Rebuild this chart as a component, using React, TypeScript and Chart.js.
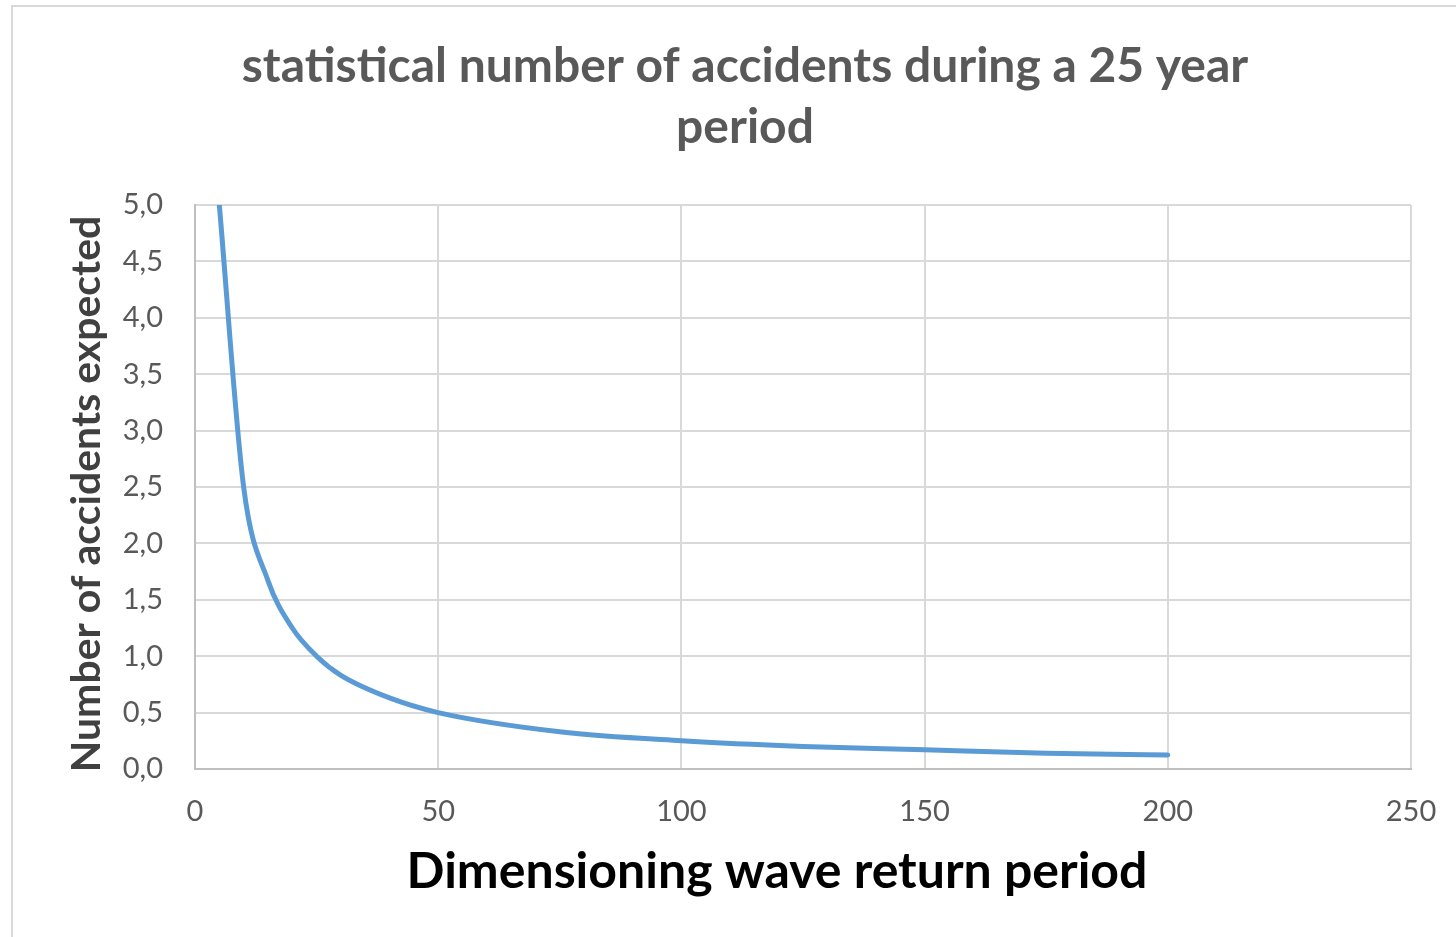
import React, { useEffect, useRef } from "react";
import { Chart, registerables } from "chart.js";

Chart.register(...registerables);

const returnPeriods = [5, 10, 15, 20, 25, 30, 40, 50, 75, 100, 125, 150, 175, 200];
const accidents = [5.0, 2.5, 1.67, 1.25, 1.0, 0.83, 0.63, 0.5, 0.33, 0.25, 0.2, 0.17, 0.14, 0.125];

const xTickValues = [0, 50, 100, 150, 200, 250];
const yTickValues = [0, 0.5, 1, 1.5, 2, 2.5, 3, 3.5, 4, 4.5, 5];

const titleLines = ["statistical number of accidents during a 25 year", "period"];
const xAxisTitle = "Dimensioning wave return period";
const yAxisTitle = "Number of accidents expected";

const axisTitlesPlugin = {
  id: "axisTitles",
  afterDraw(chart: any) {
    const { ctx, chartArea } = chart;
    ctx.save();
    ctx.textAlign = "center";
    ctx.textBaseline = "middle";
    // x axis title
    ctx.fillStyle = "#000000";
    ctx.font = "bold 50px Lato";
    ctx.fillText(xAxisTitle, (chartArea.left + chartArea.right) / 2 - 26, chartArea.bottom + 103);
    // y axis title
    ctx.translate(87, (chartArea.top + chartArea.bottom) / 2 + 7);
    ctx.rotate(-Math.PI / 2);
    ctx.fillStyle = "#404040";
    ctx.font = "bold 41px Lato";
    ctx.fillText(yAxisTitle, 0, 0);
    ctx.restore();
  },
};

export default function App() {
  const ref = useRef<HTMLCanvasElement>(null);

  useEffect(() => {
    if (!ref.current) return;
    const chart = new Chart(ref.current, {
      type: "line",
      data: {
        datasets: [
          {
            data: returnPeriods.map((x, i) => ({ x, y: accidents[i] })),
            borderColor: "#5B9BD5",
            borderWidth: 5,
            pointRadius: 0,
            fill: false,
            cubicInterpolationMode: "monotone",
            borderCapStyle: "round",
          },
        ],
      },
      options: {
        responsive: false,
        animation: false,
        devicePixelRatio: 1,
        layout: { padding: { left: 79, right: 45, top: 0, bottom: 35 } },
        plugins: {
          legend: { display: false },
          tooltip: { enabled: false },
          title: {
            display: true,
            text: titleLines,
            color: "#595959",
            font: { family: "Lato", size: 48, weight: "bold", lineHeight: 1.27 },
            padding: { top: 36.5, bottom: 46.5 },
          },
        },
        scales: {
          x: {
            type: "linear",
            min: 0,
            max: 250,
            afterBuildTicks: (s: any) => {
              s.ticks = xTickValues.map((v) => ({ value: v }));
            },
            afterFit: (s: any) => {
              s.height = 133;
            },
            ticks: {
              color: "#595959",
              font: { family: "Lato", size: 29 },
              padding: 6,
              maxRotation: 0,
              callback: (v: any) => String(v),
            },
            grid: {
              color: "#D9D9D9",
              lineWidth: 2,
              drawTicks: true,
              tickLength: 19,
              tickColor: "rgba(0,0,0,0)",
            },
            border: { color: "#BFBFBF", width: 2 },
            title: { display: false },
          },
          y: {
            type: "linear",
            min: 0,
            max: 5,
            afterBuildTicks: (s: any) => {
              s.ticks = yTickValues.map((v) => ({ value: v }));
            },
            afterFit: (s: any) => {
              s.width = 116;
            },
            ticks: {
              color: "#595959",
              font: { family: "Lato", size: 29 },
              padding: 32,
              callback: (v: any) => Number(v).toFixed(1).replace(".", ","),
            },
            grid: { color: "#D9D9D9", lineWidth: 2, drawTicks: false },
            border: { color: "#BFBFBF", width: 2 },
            title: { display: false },
          },
        },
      },
      plugins: [axisTitlesPlugin],
    } as any);
    return () => chart.destroy();
  }, []);

  return (
    <div
      style={{
        position: "fixed",
        left: 0,
        top: 0,
        width: 1456,
        height: 937,
        overflow: "hidden",
        background: "#ffffff",
      }}
    >
      <div
        style={{
          position: "absolute",
          left: 11,
          top: 5,
          width: 1500,
          height: 1000,
          border: "2px solid #D9D9D9",
          boxSizing: "border-box",
        }}
      />
      <canvas
        ref={ref}
        width={1456}
        height={937}
        style={{ position: "absolute", left: 0, top: 0, width: 1456, height: 937 }}
      />
    </div>
  );
}
